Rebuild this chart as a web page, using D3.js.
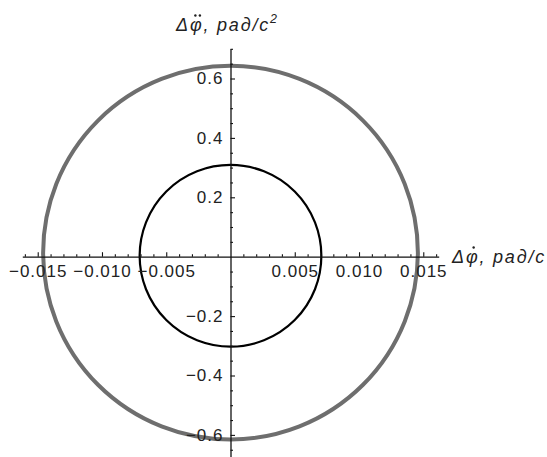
<!DOCTYPE html>
<html lang="ru">
<head>
<meta charset="UTF-8">
<title>Phase portrait</title>
<script src="https://cdn.jsdelivr.net/npm/d3@7"></script>
<style>
  body {margin: 0; background: #fff;}
  svg {display: block;}
  .tick text {font-family: "Liberation Sans", Arial, sans-serif; font-size: 17px; letter-spacing: 1px; fill: #222;}
  .axis-title {font-family: "Liberation Sans", Arial, sans-serif; font-size: 18px; font-style: italic; letter-spacing: 1.8px; fill: #222;}
</style>
</head>
<body>
<div id="chart"></div>
<script>
    // two closed curves, described by centre and half-axes (data units)
    var curveNames = ["outer", "inner"],
        centerX = [0, 0],
        centerY = [0.0136, 0.003],
        radiusX = [0.01458, 0.00707],
        radiusY = [0.629, 0.306],
        curveColors = ["#6e6e6e", "#000"],
        curveWidths = [4, 2.2];

    var xMajorTicks = [-0.015, -0.010, -0.005, 0.005, 0.010, 0.015],
        xTickLabels = ["\u22120.015", "\u22120.010", "\u22120.005", "0.005", "0.010", "0.015"],
        yMajorTicks = [-0.6, -0.4, -0.2, 0.2, 0.4, 0.6],
        yTickLabels = ["\u22120.6", "\u22120.4", "\u22120.2", "0.2", "0.4", "0.6"];

    var xMinorTicks = d3.range(-16, 17).map(function(d) {return d / 1000})
            .filter(function(d) {return Math.round(d * 1000) % 5 != 0}),
        yMinorTicks = d3.range(-13, 15).map(function(d) {return d / 20})
            .filter(function(d) {return Math.round(d * 20) % 4 != 0});

    var width = 547, height = 457;

    var x = d3.scaleLinear()
        .domain([-0.0162, 0.0162])
        .range([230.5 - 208.2, 230.5 + 208.2]);

    var y = d3.scaleLinear()
        .domain([-0.7, 0.7])
        .range([256.7 + 207.9, 256.7 - 207.9]);

    var svg = d3.select("#chart").append("svg")
        .attr("width", width)
        .attr("height", height);

    // curves
    svg.append("g").selectAll("ellipse")
        .data(curveNames)
        .enter().append("ellipse")
        .attr("cx", function(d, i) {return x(centerX[i])})
        .attr("cy", function(d, i) {return y(centerY[i])})
        .attr("rx", function(d, i) {return x(radiusX[i]) - x(0)})
        .attr("ry", function(d, i) {return y(0) - y(radiusY[i])})
        .attr("fill", "none")
        .attr("stroke", function(d, i) {return curveColors[i]})
        .attr("stroke-width", function(d, i) {return curveWidths[i]});

    // x axis : labels below, ticks above
    var gx = svg.append("g").attr("transform", "translate(0," + y(0) + ")");
    gx.append("g")
        .call(d3.axisBottom(x).tickValues(xMajorTicks)
            .tickFormat(function(d, i) {return xTickLabels[i]})
            .tickSize(0).tickPadding(8))
        .call(function(g) {g.selectAll("text").attr("font-family", null).attr("font-size", null)});
    gx.append("g")
        .call(d3.axisTop(x).tickValues(xMajorTicks).tickFormat("").tickSize(4.5))
        .call(function(g) {g.select(".domain").remove()});
    gx.append("g")
        .call(d3.axisTop(x).tickValues(xMinorTicks).tickFormat("").tickSize(2.5))
        .call(function(g) {g.select(".domain").remove()});

    // y axis : labels left, ticks right
    var gy = svg.append("g").attr("transform", "translate(" + x(0) + ",0)");
    gy.append("g")
        .call(d3.axisLeft(y).tickValues(yMajorTicks)
            .tickFormat(function(d, i) {return yTickLabels[i]})
            .tickSize(0).tickPadding(7))
        .call(function(g) {g.selectAll("text").attr("font-family", null).attr("font-size", null)});
    gy.append("g")
        .call(d3.axisRight(y).tickValues(yMajorTicks).tickFormat("").tickSize(4.5))
        .call(function(g) {g.select(".domain").remove()});
    gy.append("g")
        .call(d3.axisRight(y).tickValues(yMinorTicks).tickFormat("").tickSize(2.5))
        .call(function(g) {g.select(".domain").remove()});

    svg.selectAll(".domain").attr("stroke", "#111").attr("stroke-width", 1.3);
    svg.selectAll(".tick line").attr("stroke", "#111").attr("stroke-width", 1.1);

    // axis titles, dots over phi drawn by hand
    function title(px, py, dots, sup) {
        var t = svg.append("text")
            .attr("class", "axis-title")
            .attr("x", px).attr("y", py)
            .text("\u0394\u03c6, \u0440\u0430\u0434/\u0441");
        if (sup) t.append("tspan").attr("font-size", "12.5px").attr("dy", -8).text(sup);
        var a = t.node().getStartPositionOfChar(1),
            b = t.node().getEndPositionOfChar(1),
            cx = (a.x + b.x) / 2 + 1;
        for (var k = 0; k < dots; k++) {
            svg.append("circle")
                .attr("cx", cx + (k - (dots - 1) / 2) * 4.5)
                .attr("cy", py - 15.5)
                .attr("r", 1.2)
                .attr("fill", "#222");
        }
    }
    title(452, 263, 1);
    title(176, 31, 2, "2");
</script>
</body>
</html>
